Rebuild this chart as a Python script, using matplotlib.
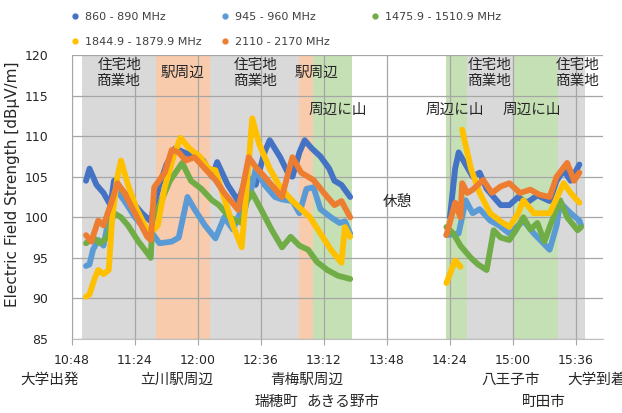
import numpy as np
import matplotlib
matplotlib.use("Agg")
import matplotlib.pyplot as plt
from matplotlib.lines import Line2D
from matplotlib.transforms import blended_transform_factory

plt.rcParams['font.family'] = ['DejaVu Sans', 'Noto Sans CJK JP']
JP = ['Noto Sans CJK JP', 'DejaVu Sans']

# ---- data (times as HH:MM, None = break in measurement) ----
t_860 = ["10:56", "10:58", "11:02", "11:06", "11:10", "11:12", "11:16", "11:22", "11:28", "11:33",
         "11:35", "11:38", "11:42", "11:47", "11:52", "11:58", "12:03", "12:08", "12:11", "12:17",
         "12:23", "12:28", "12:33", "12:38", "12:41", "12:47", "12:52", "12:54", "12:58", "13:01",
         "13:05", "13:10", "13:15", "13:18", "13:22", "13:27", None,
         "14:24", "14:25", "14:27", "14:29", "14:33", "14:37", "14:41", "14:45", "14:49", "14:53",
         "14:58", "15:03", "15:08", "15:14", "15:21", "15:25", "15:29", "15:33", "15:38"]
v_860 = [104.5, 106, 104, 103, 101.5, 104.5, 103.5, 102, 100.5, 99.5,
         101.5, 104, 106.5, 108.5, 108, 107.5, 107, 105, 106.8, 104,
         102, 105, 104, 108, 109.5, 107.4, 105.2, 105, 108, 109.5,
         108.5, 107.5, 106, 104.5, 104, 102.5, None,
         100, 102, 106, 108, 106.5, 105, 105.5, 103.5, 102.5, 101.5,
         101.5, 102.5, 101.8, 102.7, 102, 104.5, 105.8, 104.5, 106.5]

t_945 = ["10:56", "10:58", "11:00", "11:03", "11:06", "11:10", "11:13", "11:18", "11:24", "11:30",
         "11:34", "11:38", "11:45", "11:49", "11:54", "11:58", "12:04", "12:10", "12:15", "12:20",
         "12:25", "12:30", "12:33", "12:38", "12:44", "12:48", "12:54", "12:58", "13:02", "13:06",
         "13:10", "13:16", "13:21", "13:24", "13:27", None,
         "14:22", "14:29", "14:33", "14:37", "14:41", "14:47", "14:52", "14:58", "15:06", "15:12",
         "15:21", "15:25", "15:27", "15:33", "15:38", "15:39"]
v_945 = [94, 94.2, 96, 97.2, 96.5, 101, 103.5, 102, 100, 98.5,
         98, 96.8, 97, 97.5, 102.5, 101, 99, 97.4, 100, 98.5,
         101, 103, 106, 104, 102.5, 102.2, 102, 100.5, 103.5, 103.7,
         101, 100, 99.3, 99.5, 98, None,
         97.8, 98, 102.1, 100.5, 101, 99.6, 99, 98, 99.6, 98,
         96, 99, 101.8, 100.5, 99.6, 99]

t_1475 = ["10:56", "11:00", "11:04", "11:08", "11:12", "11:16", "11:20", "11:26", "11:31", "11:33",
          "11:34", "11:38", "11:44", "11:51", "11:56", "12:02", "12:08", "12:12", "12:18", "12:25",
          "12:28", "12:31", "12:36", "12:42", "12:48", "12:53", "12:58", "13:03", "13:08", "13:14",
          "13:20", "13:27", None,
          "14:22", "14:26", "14:30", "14:36", "14:40", "14:45", "14:49", "14:53", "14:58", "15:02",
          "15:06", "15:10", "15:14", "15:18", "15:21", "15:27", "15:31", "15:37", "15:39"]
v_1475 = [96.8, 97.5, 96.8, 97.5, 100.5, 100, 99, 97, 95.6, 95,
          99.6, 101.5, 104.5, 106.7, 104.5, 103.5, 102.1, 101.5, 100, 99.3,
          102, 103, 101, 98.5, 96.3, 97.6, 96.5, 96, 94.5, 93.5,
          92.8, 92.4, None,
          98.8, 98, 96.5, 95, 94.2, 93.5, 98.4, 97.5, 97.2, 98.5,
          100, 98.5, 99.3, 97, 98.8, 102.1, 100, 98.4, 98.8]

t_1844 = ["10:56", "10:58", "11:01", "11:03", "11:06", "11:09", "11:11", "11:14", "11:16", "11:20",
          "11:25", "11:31", "11:35", "11:37", "11:41", "11:46", "11:50", "11:55", "12:01", "12:06",
          "12:10", "12:14", "12:20", "12:25", "12:28", "12:31", "12:35", "12:41", "12:47", "12:54",
          "13:04", "13:10", "13:16", "13:22", "13:24", "13:27", None,
          "14:22", "14:27", "14:30", None,
          "14:31", "14:36", "14:41", "14:47", "14:53", "14:58", "15:03", "15:06", "15:12", "15:21",
          "15:29", "15:33", "15:38"]
v_1844 = [90.2, 90.5, 92.5, 93.5, 93, 93.5, 100, 105, 107, 104,
          101, 98.4, 98.5, 99, 103.7, 107.5, 109.8, 108.5, 107.5, 106,
          105.8, 103, 99, 96.3, 104, 112.2, 109, 106, 103.7, 102,
          100, 98, 96, 94.4, 98.8, 97.6, None,
          91.9, 94.7, 93.9, None,
          110.8, 106, 103, 100.5, 99.5, 98.8, 100.5, 102.1, 100.5, 100.5,
          104.2, 103, 101.8]

t_2110 = ["10:56", "10:59", "11:03", "11:06", "11:10", "11:14", "11:18", "11:24", "11:31", "11:33",
          "11:35", "11:41", "11:45", "11:49", "11:53", "11:58", "12:04", "12:10", "12:15", "12:23",
          "12:29", "12:33", "12:38", "12:44", "12:48", "12:51", "12:54", "12:59", "13:06", "13:12",
          "13:18", "13:22", "13:27", None,
          "14:22", "14:27", "14:30", "14:31", "14:34", "14:37", "14:43", "14:48", "14:53", "14:58",
          "15:04", "15:10", "15:15", "15:21", "15:25", "15:31", "15:35", "15:38"]
v_2110 = [97.8, 97, 99.6, 99, 101.5, 104.2, 103, 100.5, 97.6, 97.2,
          103.7, 105.5, 108.3, 108, 107, 107.4, 106, 104.6, 103, 100.9,
          107.4, 106.2, 105, 103.5, 102.5, 105, 107.4, 105.5, 104.6, 103,
          101.5, 102, 100, None,
          97.8, 101.8, 100, 104.2, 103, 103.4, 104.6, 103, 103.8, 104.2,
          103, 103.4, 102.8, 102.5, 105, 106.7, 104.5, 105.5]

series_labels = ["860 - 890 MHz", "945 - 960 MHz", "1475.9 - 1510.9 MHz",
                 "1844.9 - 1879.9 MHz", "2110 - 2170 MHz"]
series_colors = ["#4472C4", "#5B9BD5", "#70AD47", "#FFC000", "#ED7D31"]

# background zones: (start, end, kind)
zone_start = ["10:54", "11:36", "12:07", "12:58", "13:06", "14:22", "14:34", "15:00", "15:26"]
zone_end   = ["11:36", "12:07", "12:58", "13:06", "13:28", "14:34", "15:00", "15:26", "15:41"]
zone_kind  = ["town", "station", "town", "station", "mountain", "mountain", "town", "mountain", "town"]
zone_colors = {"town": "#D9D9D9", "station": "#F8CBAD", "mountain": "#C5E0B4"}

# zone labels inside the plot
zone_text   = ["住宅地\n商業地", "駅周辺", "住宅地\n商業地", "駅周辺", "周辺に山",
               "休憩", "周辺に山", "住宅地\n商業地", "周辺に山", "住宅地\n商業地"]
zone_text_t = ["11:15", "11:51", "12:33", "13:08", "13:20", "13:54", "14:27", "14:47", "15:11", "15:37"]
zone_text_v = [117.8, 117.8, 117.8, 117.8, 113.2, 101.9, 113.2, 117.8, 113.2, 117.8]

# route labels under the axis
place_row1 = ["大学出発", "立川駅周辺", "青梅駅周辺", "八王子市"]
place_row1_t = ["10:35", "11:48", "13:02", "14:59"]
place_row2 = ["瑞穂町", "あきる野市", "町田市"]
place_row2_t = ["12:45", "13:23", "15:18"]
place_end = "大学到着"
place_end_t = "15:31"

xtick_times = ["10:48", "11:24", "12:00", "12:36", "13:12", "13:48", "14:24", "15:00", "15:36"]


def to_min(s):
    if s is None:
        return np.nan
    h, m = s.split(":")
    return int(h) * 60 + int(m)


def fmt(m):
    return f"{int(m) // 60}:{int(m) % 60:02d}"


fig = plt.figure(figsize=(6.22, 4.13), dpi=100)
ax = fig.add_axes([72 / 622, 1 - 339 / 413, 531 / 622, 284 / 413])

for s, e, k in zip(zone_start, zone_end, zone_kind):
    ax.axvspan(to_min(s), to_min(e), color=zone_colors[k], lw=0, zorder=0)

series = [(t_860, v_860), (t_945, v_945), (t_1475, v_1475), (t_1844, v_1844), (t_2110, v_2110)]
for (t, v), c in zip(series, series_colors):
    x = [to_min(a) for a in t]
    y = [np.nan if b is None else b for b in v]
    ax.plot(x, y, color=c, lw=4.2, solid_capstyle="round", solid_joinstyle="round", zorder=3)

ax.set_xlim(to_min("10:48"), to_min("15:51") + 0.5)
ax.set_ylim(85, 120)
ax.set_yticks(np.arange(85, 121, 5))
xt = [to_min(s) for s in xtick_times]
ax.set_xticks(xt)
ax.set_xticklabels([fmt(m) for m in xt])
ax.grid(True, color="#A6A6A6", lw=0.9, zorder=1)
ax.set_axisbelow(False)
for gl in ax.get_xgridlines() + ax.get_ygridlines():
    gl.set_zorder(1)
for sp in ["top", "right"]:
    ax.spines[sp].set_visible(False)
for sp in ["left", "bottom"]:
    ax.spines[sp].set_color("#BFBFBF")
ax.tick_params(axis="x", length=4, color="#A6A6A6", pad=7, labelsize=9, labelcolor="#262626")
ax.tick_params(axis="y", length=0, pad=17, labelsize=9, labelcolor="#262626")

ax.set_ylabel("Electric Field Strength [dBμV/m]", fontsize=11, color="#262626")
ax.yaxis.set_label_coords(-52 / 531, 0.545)

for txt, t, v in zip(zone_text, zone_text_t, zone_text_v):
    ax.text(to_min(t), v, txt, family=JP, fontsize=10.5, ha="center", va="center",
            color="#262626", linespacing=1.15, zorder=4)

trans = blended_transform_factory(ax.transData, ax.transAxes)
for txt, t in zip(place_row1, place_row1_t):
    ax.text(to_min(t), -0.144, txt, family=JP, fontsize=10.5, ha="center", va="center",
            color="#262626", transform=trans, clip_on=False)
for txt, t in zip(place_row2, place_row2_t):
    ax.text(to_min(t), -0.222, txt, family=JP, fontsize=10.5, ha="center", va="center",
            color="#262626", transform=trans, clip_on=False)
ax.text(to_min(place_end_t), -0.144, place_end, family=JP, fontsize=10.5, ha="left", va="center",
        color="#262626", transform=trans, clip_on=False)

# legend: three columns, evenly spaced like the original
handles = [Line2D([], [], ls="none", marker="o", ms=3.5, color=c) for c in series_colors]
cols = [[0, 3], [1, 4], [2]]
col_x = [63 / 622, 213 / 622, 363 / 622]
for idx, x0 in zip(cols, col_x):
    fig.legend([handles[i] for i in idx], [series_labels[i] for i in idx],
               loc="upper left", bbox_to_anchor=(x0, 1 - 4 / 413), frameon=False,
               fontsize=8, handlelength=0.6, handletextpad=0.6, labelspacing=1.35,
               borderpad=0.25, labelcolor="#404040")

fig.savefig("out.png", dpi=100)
